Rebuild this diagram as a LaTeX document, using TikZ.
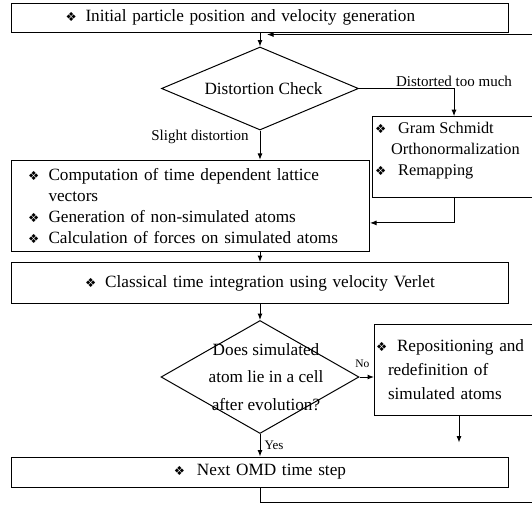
\documentclass[tikz,border=0pt]{standalone}
\usepackage{fontspec}
\setmainfont{Liberation Serif}
\newfontfamily\bulfont{DejaVu Sans}
\usetikzlibrary{shapes.geometric,arrows.meta,positioning}

\newcommand{\bul}{{\bulfont\fontsize{12.5}{12.5}\selectfont\char"2756}}
\newcommand{\itm}[1]{\makebox[#1][l]{\bul}}

\tikzset{
  box/.style={draw, line width=1pt, inner sep=0pt, font=\fontsize{17.2}{20.8}\selectfont},
  check/.style={draw, diamond, line width=1pt, inner sep=0pt},
  txt/.style={inner sep=0pt, align=left, font=\fontsize{17.2}{20.8}\selectfont},
  flow/.style={line width=1pt, -{Latex[length=6.5pt,width=5pt]}},
  note/.style={inner sep=1pt, font=\fontsize{15}{15}\selectfont},
  tiny/.style={inner sep=1pt, font=\fontsize{11.5}{11.5}\selectfont},
}

\begin{document}
\begin{tikzpicture}[x=1pt,y=-1pt]
\useasboundingbox (0,0) rectangle (532,506);
\clip (0,0) rectangle (532,506);

\node[box, text width=389pt, inner xsep=54pt, minimum height=29pt, align=left] (init) at (260,17.5)
  {\itm{20pt}Initial particle position and velocity generation};

\node[check, minimum width=197pt, minimum height=83pt] (chk1) at (260,88.5) {};
\node[txt] (chk1txt) at (263.5,89) {Distortion Check};

\node[box, minimum width=166pt, minimum height=81pt] (gram) at (455.5,157.2) {};
\node[txt, anchor=north west, font=\fontsize{16.3}{21.2}\selectfont] (gramtxt) at ([xshift=3pt,yshift=-5.8pt]gram.north west)
  {\itm{23pt}Gram Schmidt\\\hspace*{16pt}Orthonormalization\\\itm{23pt}Remapping};

\node[box, text width=325pt, inner xsep=16.5pt, minimum height=91pt, align=left] (comp) at (190.5,205.9)
  {\itm{20.5pt}Computation of time dependent lattice\\\hspace*{20.5pt}vectors\\\itm{20.5pt}Generation of non-simulated atoms\\\itm{20.5pt}Calculation of forces on simulated atoms};

\node[box, text width=497pt, minimum height=41pt, align=center] (verlet) at (260,283)
  {\itm{20pt}Classical time integration using velocity Verlet};

\node[check, minimum width=198pt, minimum height=113pt] (chk2) at (260,377) {};
\node[txt, align=center, font=\fontsize{17.2}{27.7}\selectfont] (chk2txt) at (266,377)
  {Does simulated\\atom lie in a cell\\after evolution?};

\node[box, text width=164pt, inner xsep=1.5pt, minimum height=91pt, align=left, font=\fontsize{17.2}{23.8}\selectfont] (repos) at (458,369.5)
  {\itm{21pt}Repositioning and\\\hspace*{12pt}redefinition of\\\hspace*{12pt}simulated atoms};

\node[box, text width=497pt, minimum height=30pt, align=center] (next) at (260,472)
  {\itm{23pt}Next OMD time step};

\coordinate (hang) at (459,442.6);
\coordinate (backR) at (545,502);
\coordinate (backIn) at (267,34.5);

\draw[flow] (init.south) -- (init.south |- chk1.north);
\draw[flow] (chk1.east) -| node[note, above, pos=0.5] (toomuch) {Distorted too much} ([xshift=-1.5pt]gram.north);
\draw[flow] (chk1.south) -- node[note, left=10pt, pos=0.23] (slight) {Slight distortion} (chk1.south |- comp.north);
\draw[flow] ([xshift=-1.5pt]gram.south) |- ([yshift=-17pt]comp.east);
\draw[flow] (comp.south -| chk1.south) -- (verlet.north -| chk1.south);
\draw[flow] (verlet.south -| chk2.north) -- (chk2.north);
\draw[flow] (chk2.east) -- node[tiny, above=8pt, pos=0.2] (nolbl) {No} (chk2.east -| repos.west);
\draw[flow] (repos.south -| hang) -- (hang);
\draw[flow] (chk2.south) -- node[note, font=\fontsize{13}{13}\selectfont, right=3pt] (yeslbl) {Yes} (chk2.south |- next.north);
\draw[flow] (next.south) |- (backR) |- (backIn);
\end{tikzpicture}
\end{document}
